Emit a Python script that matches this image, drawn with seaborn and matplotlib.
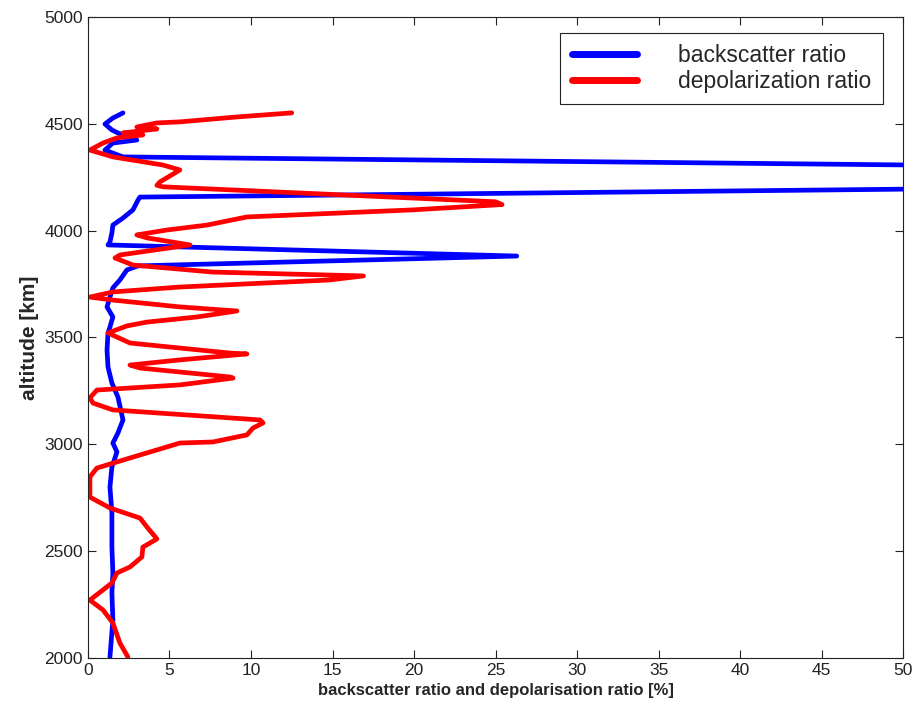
import numpy as np
import pandas as pd
import matplotlib
matplotlib.use('Agg')
import matplotlib.pyplot as plt
import seaborn as sns

# backscatter ratio profile (value, altitude)
bsr_val = [2.15, 1.53, 1.04, 1.47, 1.84, 3.0, 1.53, 1.04, 1.66, 2.15,
           122.0,
           3.19, 3.07, 2.76, 2.15, 1.53, 1.47, 1.35, 1.23,
           26.3,
           3.07, 2.39, 1.96, 1.53, 1.35, 1.17, 1.53, 1.35, 1.23, 1.17,
           1.23, 1.47, 1.84, 2.15, 1.84, 1.53, 1.78, 1.47, 1.35, 1.47,
           1.47, 1.53, 1.47, 1.53, 1.35]
bsr_alt = [4551, 4527, 4499, 4471, 4457, 4424, 4410, 4377, 4359, 4345,
           4251,
           4157, 4143, 4097, 4059, 4026, 3989, 3947, 3933,
           3881,
           3835, 3816, 3769, 3732, 3689, 3643, 3596, 3549, 3521, 3441,
           3362, 3287, 3221, 3114, 3053, 3006, 2964, 2894, 2800, 2679,
           2519, 2398, 2304, 2178, 2005]

# depolarization ratio profile (value, altitude)
dep_val = [12.5, 9.14, 5.64, 4.23, 3.0, 4.23, 2.15, 3.37, 1.78, 0.92,
           0.12, 1.53, 4.6, 5.64, 4.9, 4.42, 4.23, 4.6, 25.0, 25.4,
           19.9, 9.75, 7.3,
           4.85, 3.0, 3.62, 6.26, 1.96, 1.66, 2.76, 7.67, 16.9, 14.8,
           5.64, 1.53, 0.12, 1.53, 5.64, 9.14, 6.69, 3.62, 2.39, 1.23,
           2.58, 8.71, 9.75, 5.64, 2.58, 3.19, 8.71, 8.9, 5.64, 0.55,
           0.12, 0.31, 1.53, 10.55, 10.74, 10.12, 9.75, 7.67, 5.64, 3.8,
           2.58, 0.55, 0.12, 0.12, 1.35, 3.19, 3.62, 4.23, 3.37, 3.31,
           2.58, 1.78, 1.47, 0.12, 0.92, 1.53, 1.96, 2.45]
dep_alt = [4551, 4532, 4509, 4504, 4485, 4476, 4457, 4448, 4434, 4410,
           4377, 4345, 4307, 4284, 4250, 4228, 4212, 4205, 4135, 4122,
           4097, 4064, 4026,
           4003, 3980, 3966, 3933, 3886, 3872, 3839, 3806, 3788, 3769,
           3736, 3713, 3689, 3675, 3643, 3624, 3596, 3572, 3554, 3521,
           3474, 3427, 3423, 3395, 3371, 3357, 3315, 3310, 3278, 3254,
           3217, 3193, 3161, 3114, 3100, 3076, 3044, 3011, 3006, 2964,
           2936, 2889, 2847, 2753, 2702, 2655, 2613, 2557, 2519, 2473,
           2426, 2398, 2351, 2271, 2225, 2164, 2070, 2005]

x_ticks = list(range(0, 51, 5))
y_ticks = list(range(2000, 5001, 500))

sns.set_style('ticks')
plt.rcParams['font.family'] = ['Liberation Sans Narrow', 'Liberation Sans', 'DejaVu Sans']

fig = plt.figure(figsize=(9.16, 7.06), dpi=100)
ax = fig.add_axes([0.096, 0.068, 0.890, 0.908])

sns.lineplot(x=bsr_val, y=bsr_alt, sort=False, estimator=None, color='#0000ff',
             linewidth=3.4, ax=ax, label='backscatter ratio')
sns.lineplot(x=dep_val, y=dep_alt, sort=False, estimator=None, color='#ff0000',
             linewidth=3.4, ax=ax, label='depolarization ratio')

ax.set_xlim(0, 50)
ax.set_ylim(2000, 5000)
ax.set_xticks(x_ticks)
ax.set_yticks(y_ticks)
ax.tick_params(direction='in', top=True, right=True, length=6, width=0.8,
               labelsize=12.5, colors='#222222')
for s in ax.spines.values():
    s.set_linewidth(0.8)
    s.set_color('#222222')

ax.set_xlabel('backscatter ratio and depolarisation ratio [%]', fontsize=12,
              fontweight='bold', family=['Liberation Sans', 'DejaVu Sans'])
ax.set_ylabel('altitude [km]', fontsize=15, fontweight='bold',
              family=['Liberation Sans', 'DejaVu Sans'])

leg = ax.legend(loc='upper right', bbox_to_anchor=(0.9755, 0.975), borderaxespad=0,
                handlelength=2.85, handletextpad=1.8, borderpad=0.5,
                labelspacing=0.1, fancybox=False, framealpha=1,
                edgecolor='#222222', prop={'family': 'Liberation Sans', 'size': 16.5})
leg.get_frame().set_linewidth(0.8)
for line in leg.get_lines():
    line.set_linewidth(5)

fig.savefig('out.png', dpi=100)
